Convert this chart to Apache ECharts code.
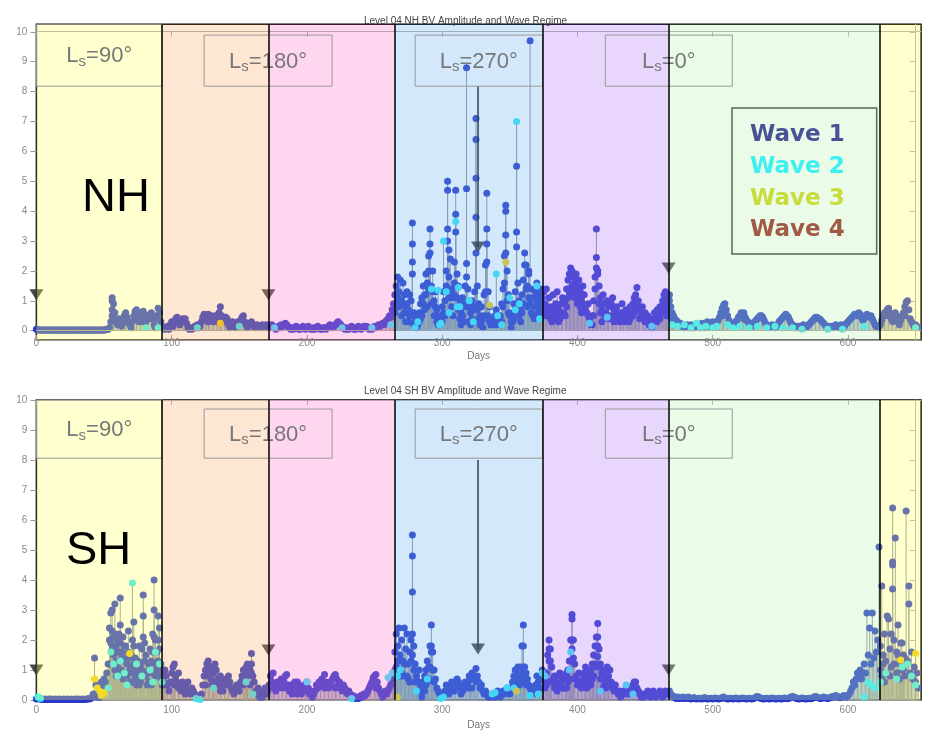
<!DOCTYPE html>
<html><head><meta charset="utf-8">
<script src="https://cdn.jsdelivr.net/npm/echarts@6/dist/echarts.min.js"></script>
<style>html,body{margin:0;padding:0;background:#fff}#c{width:927px;height:734px}</style>
</head><body><div id="c"></div>
<script>
// ---------- DATA ----------
const xTicks = [0, 100, 200, 300, 400, 500, 600];
const yTicks = [0, 1, 2, 3, 4, 5, 6, 7, 8, 9, 10];
// Season boundaries (days) and labels
const seasonEdges = [0, 93, 171.5, 264.7, 374.2, 467.4, 623.2, 654];
const seasonLines = [93, 171.5, 264.7, 374.2, 467.4, 623.2];
const lsLabels = ['90', '180', '270', '0'];
const lsBoxX = [[0, 93], [124, 218.6], [280, 374.2], [420.6, 514.5]];
const waveNames = ['Wave 1', 'Wave 2', 'Wave 3', 'Wave 4'];

// NH daily amplitude (day 0 ... 652)
const nhAmp = [
0.05,0.03,0.02,0.03,0.02,0.02,0.03,0.02,0.02,0.03,
0.02,0.03,0.02,0.02,0.03,0.02,0.02,0.03,0.02,0.02,
0.03,0.02,0.02,0.03,0.02,0.02,0.03,0.02,0.02,0.03,
0.02,0.03,0.02,0.02,0.03,0.02,0.02,0.03,0.02,0.02,
0.03,0.02,0.02,0.03,0.02,0.02,0.03,0.02,0.02,0.03,
0.02,0.03,0.05,0.04,0.1,0.3,1.1,0.9,0.6,0.3,
0.2,0.4,0.3,0.15,0.3,0.5,0.6,0.45,0.3,0.2,
0.1,0.3,0.5,0.65,0.7,0.5,0.3,0.4,0.6,0.65,
0.45,0.3,0.5,0.4,0.55,0.6,0.4,0.2,0.1,0.5,
0.75,0.6,0.3,0.15,0.1,0.05,0.1,0.15,0.05,0.2,
0.3,0.15,0.3,0.4,0.45,0.3,0.2,0.35,0.4,0.3,
0.4,0.25,0.1,0.05,0.1,0.05,0.1,0.15,0.1,0.2,
0.1,0.15,0.3,0.45,0.55,0.4,0.5,0.55,0.35,0.5,
0.4,0.3,0.5,0.45,0.3,0.6,0.8,0.5,0.35,0.3,
0.45,0.4,0.2,0.1,0.2,0.3,0.15,0.1,0.25,0.3,
0.2,0.35,0.45,0.5,0.3,0.2,0.1,0.2,0.25,0.3,
0.2,0.15,0.1,0.2,0.15,0.1,0.15,0.2,0.1,0.15,
0.2,0.1,0.15,0.1,0.2,0.15,0.1,0.05,0.1,0.15,
0.1,0.2,0.15,0.2,0.25,0.2,0.15,0.1,0.05,0.1,
0.05,0.1,0.15,0.1,0.05,0.05,0.1,0.15,0.1,0.05,
0.1,0.15,0.1,0.05,0.05,0.1,0.05,0.1,0.15,0.1,
0.05,0.05,0.1,0.1,0.05,0.1,0.15,0.2,0.15,0.1,
0.15,0.2,0.25,0.3,0.25,0.2,0.15,0.1,0.05,0.1,
0.05,0.05,0.1,0.15,0.1,0.05,0.05,0.1,0.15,0.1,
0.05,0.1,0.15,0.1,0.15,0.1,0.05,0.1,0.05,0.1,
0.15,0.1,0.15,0.2,0.15,0.2,0.25,0.2,0.3,0.35,
0.4,0.5,0.45,0.7,0.9,1.2,1.5,1.8,1.3,1.7,
1.0,1.6,1.2,0.8,1.3,0.7,1.2,1.0,3.6,0.6,
0.3,0.5,0.2,0.6,0.9,1.1,1.5,1.2,1.9,1.6,
2.5,3.4,1.5,2.0,1.0,1.3,0.7,0.5,0.2,0.4,
0.8,1.3,1.0,2.0,5.0,1.8,2.4,1.4,1.1,2.3,
4.7,1.9,1.5,0.9,0.6,1.1,0.8,1.5,8.8,1.4,
0.9,0.6,1.0,0.7,1.3,7.1,1.5,0.9,0.5,0.8,
0.4,1.2,2.2,4.6,1.3,0.8,0.4,0.2,0.3,0.5,
0.7,0.4,0.2,0.5,0.9,1.4,2.5,4.2,2.0,1.2,
0.5,0.3,0.6,0.9,1.3,5.5,1.6,1.0,0.7,1.2,
1.7,2.6,2.2,1.5,1.9,9.7,1.4,1.1,0.8,1.3,
1.6,1.2,0.9,1.4,1.1,1.3,0.9,1.4,0.6,1.1,
0.4,0.8,1.2,0.5,0.9,1.3,0.7,0.4,0.9,1.1,
0.6,1.0,1.4,1.7,1.9,2.1,2.0,1.8,1.6,1.9,
1.5,1.7,1.3,1.0,1.5,1.2,0.8,0.6,0.9,0.4,
0.2,0.5,1.0,1.8,3.4,2.0,1.5,1.1,0.7,1.2,
0.9,0.6,1.0,0.8,0.5,0.9,1.1,0.7,0.4,0.8,
0.6,0.3,0.6,0.9,0.5,0.3,0.7,0.4,0.6,0.8,
0.5,0.9,1.1,1.2,1.45,1.0,0.7,0.5,0.8,0.4,
0.6,0.3,0.5,0.2,0.4,0.1,0.3,0.6,0.4,0.7,
0.5,0.8,0.6,1.0,1.2,1.3,0.9,1.1,1.0,0.8,
0.6,0.5,0.4,0.35,0.3,0.2,0.25,0.15,0.2,0.1,
0.15,0.2,0.1,0.15,0.2,0.1,0.15,0.1,0.2,0.15,
0.1,0.2,0.25,0.15,0.1,0.2,0.3,0.2,0.15,0.25,
0.3,0.2,0.15,0.25,0.35,0.45,0.6,0.75,0.85,0.9,
0.7,0.5,0.35,0.25,0.2,0.15,0.2,0.3,0.35,0.45,
0.5,0.6,0.55,0.6,0.45,0.35,0.3,0.2,0.25,0.15,
0.2,0.3,0.35,0.4,0.45,0.5,0.5,0.45,0.35,0.25,
0.2,0.15,0.1,0.15,0.2,0.15,0.1,0.15,0.2,0.3,
0.35,0.4,0.45,0.5,0.55,0.5,0.45,0.35,0.25,0.2,
0.15,0.1,0.15,0.1,0.15,0.1,0.15,0.2,0.15,0.1,
0.15,0.2,0.25,0.3,0.35,0.4,0.45,0.45,0.4,0.4,
0.35,0.3,0.25,0.2,0.15,0.1,0.15,0.1,0.15,0.1,
0.15,0.2,0.15,0.1,0.15,0.2,0.15,0.1,0.2,0.25,
0.3,0.35,0.4,0.45,0.5,0.55,0.5,0.55,0.6,0.55,
0.45,0.35,0.4,0.5,0.55,0.5,0.45,0.5,0.4,0.3,
0.2,0.15,0.1,0.15,0.2,0.35,0.5,0.6,0.5,0.7,
0.75,0.6,0.4,0.3,0.4,0.6,0.5,0.3,0.2,0.35,
0.5,0.6,0.8,0.95,1.0,0.7,0.4,0.3,0.2,0.15,
0.2,0.15,0.1
];
// extra same-day samples (Wave 1) [day, value]
const nhExtra = [
[56,1.0],[56,0.7],[56,0.5],[57,0.4],[66,0.3],[74,0.4],[79,0.3],[90,0.4],[136,0.5],[136,0.3],[127,0.3],
[266,0.9],[268,0.8],[271,0.9],[276,0.5],[278,2.9],[278,2.3],[278,1.9],[285,0.5],[287,0.7],[289,0.8],
[290,2.0],[291,2.9],[291,2.6],[292,0.9],[300,0.3],[303,1.5],[304,4.7],[304,3.4],[304,3.0],[305,2.7],
[306,1.2],[309,1.6],[310,3.9],[310,3.3],[312,0.7],[316,0.3],[318,4.75],[318,2.25],[318,1.8],[320,0.3],
[322,0.4],[325,6.4],[325,5.1],[325,3.8],[325,2.6],[326,0.7],[329,0.3],[331,0.5],[333,3.4],[333,2.9],
[333,2.3],[334,0.5],[336,0.2],[344,0.3],[347,4.0],[347,3.2],[347,2.6],[348,1.0],[352,0.3],[355,3.3],
[355,2.8],[356,0.7],[358,0.3],[360,0.9],[361,2.2],[363,0.8],[364,2.0],[366,0.6],[368,0.4],[371,0.6],[373,0.7],
[265,0.6],[267,1.1],[269,0.9],[270,0.5],[272,0.6],[273,0.3],[274,0.9],[275,0.3],[277,0.5],[279,0.2],
[281,0.1],[283,0.3],[284,0.4],[286,0.9],[288,1.2],[290,1.4],[293,1.3],[294,0.5],[295,0.8],[296,0.3],
[297,0.2],[301,0.6],[302,0.5],[305,1.1],[307,0.8],[308,0.5],[309,1.2],[311,1.1],[313,0.4],[314,0.2],
[315,0.5],[317,0.9],[319,0.8],[321,0.2],[323,0.3],[324,0.8],[327,0.4],[328,0.2],[330,0.1],[332,1.3],
[335,0.3],[339,0.2],[340,0.3],[343,0.2],[345,0.8],[346,1.6],[349,0.6],[351,0.1],[353,0.4],[354,0.8],
[357,0.5],[359,0.6],[362,1.4],[364,1.1],[365,0.9],[367,0.5],[369,0.8],[370,1.0],[372,0.5],[374,0.6],
[376,0.5],[381,0.3],[385,0.6],[389,0.5],[392,0.8],[394,1.3],[396,1.5],[398,1.1],[400,0.9],[402,0.8],
[413,1.4],[414,2.45],[414,2.1],[415,1.9],[416,0.9],[419,0.6],[426,0.5],[433,0.5],[442,0.6],[444,0.9],
[445,0.7],[459,0.3],[464,0.6],[465,0.8],[468,1.2],[469,0.6],[470,0.4],[507,0.5],[523,0.4],[642,0.5],
[375,0.7],[377,0.8],[379,0.6],[382,0.7],[384,0.4],[386,0.3],[388,0.5],[391,0.5],[393,1.1],[395,1.4],
[397,1.2],[399,1.3],[401,1.1],[403,0.6],[404,0.9],[405,0.7],[408,0.5],[411,0.2],[412,0.5],[417,0.6],
[418,0.3],[420,0.5],[422,0.5],[423,0.4],[425,0.4],[427,0.3],[429,0.4],[432,0.3],[436,0.4],[438,0.3],
[439,0.4],[441,0.5],[443,0.8],[446,0.4],[448,0.4],[450,0.3],[457,0.3],[461,0.4],[463,0.6],[466,0.5],[467,0.7]
];
const nhWave2 = [
[81,0.1],[90,0.1],[119,0.1],[150,0.15],[176,0.1],[226,0.1],[248,0.1],[262,0.2],
[280,0.1],[282,0.3],[292,1.4],[297,1.35],[298,0.2],[299,0.25],[301,3.0],[303,1.3],[305,0.6],
[310,3.65],[311,0.8],[312,1.45],[313,0.8],[320,1.0],[323,0.3],[340,1.9],[341,0.5],[344,0.2],
[350,1.1],[354,0.7],[355,7.0],[357,0.9],[370,1.5],[372,0.4],[409,0.25],[422,0.45],[455,0.15],
[470,0.2],[474,0.15],[479,0.2],[484,0.1],[488,0.25],[491,0.1],[495,0.15],[500,0.1],[503,0.15],
[511,0.2],[515,0.1],[520,0.15],[527,0.1],[533,0.15],[540,0.1],[546,0.15],[552,0.1],[559,0.1],
[566,0.05],[585,0.05],[596,0.05],[612,0.15],[650,0.1]
];
const nhWave3 = [[136,0.25],[335,0.85],[347,2.3]];
const nhWave4 = [];
const nhMarkers = [[0,1.2],[171.5,1.2],[326.5,2.8],[467.4,2.1]];
const nhArrows = [[326.5,8.18,2.8]];

// SH daily amplitude (day 0 ... 652)
const shAmp = [
0.03,0.05,0.04,0.03,0.02,0.02,0.03,0.02,0.02,0.03,
0.02,0.03,0.02,0.02,0.03,0.02,0.02,0.03,0.02,0.02,
0.03,0.02,0.02,0.03,0.02,0.02,0.03,0.02,0.02,0.03,
0.02,0.03,0.02,0.02,0.03,0.02,0.02,0.03,0.04,0.03,
0.05,0.1,0.2,1.4,0.5,0.3,0.2,0.4,0.6,0.5,
0.7,0.6,0.9,1.2,2.4,2.9,3.0,2.1,3.2,1.8,
2.0,2.2,3.4,1.6,2.1,1.4,1.8,1.2,2.3,1.0,
1.5,2.0,2.6,1.4,0.9,1.3,1.8,0.8,1.7,3.5,
1.9,1.5,0.9,1.2,1.7,1.3,2.2,4.0,2.0,1.6,
2.8,2.4,1.2,0.9,0.6,1.0,0.8,0.5,0.3,0.6,
0.9,1.1,1.2,0.8,0.6,0.9,0.5,0.3,0.6,0.4,
0.2,0.4,0.6,0.3,0.2,0.4,0.3,0.2,0.1,0.05,
0.1,0.05,0.2,0.5,0.8,1.0,1.2,1.3,1.0,0.7,
1.1,0.9,1.2,1.0,0.7,0.5,0.8,0.6,0.3,0.5,
0.7,0.5,0.8,0.6,0.4,0.3,0.2,0.3,0.5,0.4,
0.3,0.6,0.8,1.0,0.9,1.1,1.2,0.9,1.0,1.55,
0.8,0.6,0.3,0.2,0.4,0.1,0.2,0.1,0.3,0.4,
0.2,0.3,0.5,0.8,0.6,0.9,0.5,0.3,0.6,0.4,
0.5,0.7,0.4,0.6,0.8,0.85,0.5,0.3,0.5,0.2,
0.4,0.6,0.4,0.6,0.5,0.3,0.2,0.4,0.5,0.3,
0.6,0.4,0.2,0.3,0.1,0.2,0.3,0.5,0.4,0.6,
0.5,0.7,0.6,0.85,0.6,0.5,0.4,0.6,0.5,0.7,
0.8,0.85,0.7,0.5,0.6,0.4,0.3,0.5,0.4,0.3,
0.2,0.3,0.2,0.1,0.15,0.1,0.05,0.1,0.05,0.1,
0.15,0.1,0.2,0.15,0.2,0.3,0.4,0.5,0.6,0.75,
0.8,0.85,0.6,0.4,0.3,0.2,0.1,0.2,0.3,0.2,
0.3,0.4,0.5,0.7,0.9,1.6,2.2,1.8,2.4,1.5,
2.0,1.3,2.4,1.7,2.2,1.2,1.6,2.0,5.5,1.8,
1.2,0.8,0.6,1.0,0.5,0.3,0.6,0.8,1.0,1.3,
1.1,1.8,2.5,1.6,1.0,0.7,0.4,0.3,0.2,0.1,
0.15,0.2,0.3,0.5,0.3,0.2,0.4,0.6,0.5,0.3,
0.5,0.7,0.6,0.4,0.2,0.3,0.5,0.6,0.4,0.6,
0.8,0.7,0.9,0.7,0.8,1.05,0.8,0.6,0.4,0.5,
0.3,0.2,0.3,0.2,0.1,0.15,0.1,0.2,0.15,0.1,
0.2,0.3,0.2,0.1,0.2,0.3,0.2,0.3,0.4,0.3,
0.2,0.4,0.6,0.8,1.0,0.9,1.1,0.8,1.1,1.8,
2.5,1.1,0.9,0.7,0.5,0.4,0.3,0.2,0.3,0.5,
0.8,0.6,0.4,0.7,1.0,0.7,0.4,0.9,1.5,2.0,
1.7,1.1,0.7,0.4,0.6,0.8,0.5,0.9,0.6,0.8,
0.4,0.7,0.9,1.0,1.3,2.0,2.85,2.0,1.2,0.8,
0.5,0.9,0.6,0.4,0.7,0.9,1.1,0.8,0.6,0.9,
1.0,1.2,1.5,1.8,2.1,2.55,1.7,1.2,0.9,0.8,
1.0,0.7,1.1,0.8,1.0,0.6,0.4,0.3,0.5,0.3,
0.2,0.3,0.1,0.2,0.3,0.2,0.3,0.4,0.2,0.3,
0.4,0.5,0.6,0.6,0.4,0.3,0.2,0.1,0.2,0.1,
0.15,0.2,0.3,0.2,0.1,0.2,0.3,0.2,0.1,0.15,
0.2,0.3,0.2,0.1,0.2,0.3,0.2,0.2,0.3,0.2,
0.15,0.1,0.1,0.05,0.1,0.05,0.08,0.05,0.1,0.05,
0.05,0.08,0.1,0.05,0.03,0.05,0.08,0.05,0.03,0.05,
0.04,0.06,0.03,0.05,0.08,0.05,0.03,0.04,0.06,0.05,
0.03,0.05,0.07,0.05,0.03,0.04,0.05,0.08,0.1,0.07,
0.05,0.03,0.04,0.06,0.05,0.03,0.05,0.07,0.05,0.03,
0.04,0.05,0.07,0.05,0.04,0.03,0.05,0.06,0.04,0.03,
0.05,0.07,0.1,0.12,0.1,0.07,0.05,0.04,0.03,0.05,
0.06,0.04,0.03,0.05,0.07,0.05,0.04,0.03,0.05,0.06,
0.04,0.03,0.05,0.07,0.05,0.04,0.05,0.08,0.1,0.12,
0.1,0.08,0.05,0.04,0.03,0.05,0.07,0.05,0.04,0.03,
0.05,0.06,0.04,0.05,0.07,0.1,0.12,0.1,0.08,0.06,
0.05,0.07,0.1,0.08,0.06,0.05,0.07,0.09,0.1,0.12,
0.1,0.15,0.12,0.1,0.08,0.1,0.12,0.15,0.12,0.1,
0.15,0.2,0.3,0.4,0.6,0.5,0.7,0.9,0.8,1.0,
0.7,0.9,1.2,0.9,2.9,1.5,2.4,1.2,2.9,1.4,
2.3,1.6,2.0,5.1,1.8,3.8,1.5,2.2,1.3,2.8,
2.7,1.7,2.2,6.4,2.0,5.4,1.6,2.5,1.2,1.9,
1.0,1.5,0.8
];
const shExtra = [
[45,0.1],[47,0.1],[50,0.3],[52,0.4],[54,2.0],[55,1.9],[56,1.7],[57,1.5],[58,2.2],[59,1.3],[60,1.1],
[61,1.6],[62,2.5],[62,1.9],[63,1.0],[64,1.3],[66,0.9],[68,1.6],[69,0.6],[70,1.1],[71,0.9],[72,1.8],
[73,0.7],[74,0.5],[76,1.1],[77,1.2],[79,2.8],[79,2.1],[80,1.3],[81,0.8],[83,0.6],[85,0.9],[86,1.6],
[87,3.0],[87,2.1],[88,1.2],[90,2.0],[91,1.7],[92,0.7],
[54,1.2],[56,2.3],[58,1.0],[59,0.8],[60,1.6],[61,0.9],[63,1.4],[64,0.7],[65,1.8],[67,0.8],[69,1.4],
[70,0.6],[72,1.2],[73,1.0],[75,0.7],[76,0.5],[77,0.6],[78,1.0],[80,0.8],[82,0.5],[83,1.0],[84,0.6],
[85,0.5],[88,0.8],[89,1.0],[90,1.3],[91,0.9],[92,1.0],[93,0.5],
[95,0.5],[101,0.6],[102,0.5],[105,0.4],[125,0.5],[127,0.8],[130,0.5],[132,0.6],[136,0.3],[153,0.5],
[155,0.6],[156,0.8],[159,1.2],[159,0.9],[158,0.5],[175,0.4],[185,0.4],[193,0.2],[213,0.4],[221,0.4],[251,0.4],
[266,1.1],[268,1.3],[270,0.9],[272,1.2],[274,0.8],[276,0.6],[278,4.8],[278,3.6],[278,2.2],[278,1.5],
[279,1.0],[287,0.3],[289,0.6],[291,1.1],[292,1.8],[292,1.6],[320,0.4],[322,0.4],[325,0.6],[356,0.6],
[358,0.6],[359,0.9],[360,1.8],[360,1.1],
[265,1.0],[267,1.3],[269,0.8],[271,0.8],[273,1.2],[275,0.7],[277,1.3],[280,0.6],[282,0.3],[283,0.6],
[285,0.1],[288,0.5],[290,0.7],[293,1.0],[294,0.6],[354,0.6],[357,0.5],[361,0.7],[362,0.5],[373,0.4],
[378,0.6],[379,1.7],[379,1.3],[385,0.3],[389,0.4],[392,0.4],[394,0.7],[395,1.3],[396,2.7],[396,2.0],
[396,1.7],[406,0.5],[410,0.5],[412,0.8],[414,1.2],[415,2.1],[415,1.8],[415,1.45],[420,0.5],[422,0.6],[424,0.5],
[377,0.5],[380,1.3],[381,0.6],[383,0.8],[387,0.5],[391,0.4],[393,0.6],[397,1.4],[398,0.7],[401,0.5],
[405,0.6],[407,0.4],[409,0.5],[411,0.7],[413,1.1],[416,1.1],[417,0.7],[419,0.4],[421,0.4],[423,0.5],
[624,1.0],[625,0.8],[626,1.2],[627,0.6],[629,0.9],[631,0.8],[632,1.1],[633,4.6],[633,4.5],[633,3.7],
[634,1.2],[636,0.9],[637,1.5],[638,0.7],[640,1.9],[641,1.0],[642,1.4],[643,6.3],[644,1.3],[645,3.8],
[645,3.2],[646,0.9],[647,1.6],[648,0.7],[649,1.1],[650,0.6],[651,0.9],[652,0.4]
];
const shWave2 = [
[1,0.1],[2,0.1],[3,0.05],[53,0.4],[55,1.6],[57,1.2],[60,0.8],[62,1.3],[65,0.9],[67,0.5],[71,3.9],
[74,1.2],[78,0.8],[84,1.0],[86,0.6],[88,1.6],[91,1.2],[93,0.6],[118,0.05],[121,0.02],[131,0.4],
[155,0.6],[160,0.2],[200,0.6],[233,0.05],[260,0.75],[263,0.9],[267,0.8],[269,1.0],[281,0.3],[289,0.7],
[299,0.05],[301,0.1],[337,0.2],[339,0.25],[348,0.4],[353,0.4],[365,0.15],[371,0.2],[374,0.9],[376,0.8],
[394,1.0],[395,1.6],[417,0.3],[436,0.5],[441,0.2],[612,0.1],[615,0.6],[617,0.5],[620,0.4],
[624,0.6],[628,0.9],[636,0.7],[640,1.1],[644,1.2],[647,0.8],[650,0.5]
];
const shWave3 = [[43,0.7],[45,0.4],[47,0.28],[48,0.15],[50,0.25],[69,1.55],[267,0.1],[355,0.3],[639,1.33],[650,1.55]];
const shWave4 = [];
const shMarkers = [[0,1.0],[171.5,1.67],[326.5,1.7],[467.4,1.0]];
const shArrows = [[326.5,8.0,1.7]];

// ---------- STYLE ----------
const waveColors = ['#2838c8', '#33e6f5', '#f0cc10', '#a0523c'];
const legendColors = ['#4a5296', '#3ff0f0', '#c8dc3c', '#a05a46'];
const bandColors = [
  'rgba(255,255,98,0.3)', 'rgba(248,172,105,0.3)', 'rgba(255,118,205,0.3)',
  'rgba(112,178,245,0.3)', 'rgba(178,118,245,0.3)', 'rgba(185,245,178,0.3)', 'rgba(255,255,98,0.3)'
];
const FONT = 'Liberation Sans';

const panels = [
  {amp: nhAmp, extra: nhExtra, w2: nhWave2, w3: nhWave3, w4: nhWave4, markers: nhMarkers, arrows: nhArrows,
   grid: {left: 36.4, right: 6, top: 24.3, height: 315.7}, ymin: -0.31, ymax: 10.25, box: [8.18, 9.89], boxTop: 10.25,
   topOffset: -7.4, nameGap: 11, labelMargin: -2, baseline: true},
  {amp: shAmp, extra: shExtra, w2: shWave2, w3: shWave3, w4: shWave4, markers: shMarkers, arrows: shArrows,
   grid: {left: 36.4, right: 6, top: 400, height: 300}, ymin: 0, ymax: 10, box: [8.06, 9.7], boxTop: 10,
   topOffset: 0, nameGap: 20, labelMargin: 5, baseline: false}
];

const grids = [], xAxes = [], yAxes = [], series = [];
panels.forEach((p, g) => {
  grids.push(Object.assign({show: true, borderColor: '#000', borderWidth: 1.5, backgroundColor: 'transparent'}, p.grid));
  const xi = g * 2, yi = g * 2;
  xAxes.push({gridIndex: g, type: 'value', min: 0, max: 654, interval: 100, position: 'bottom',
    axisLine: {onZero: false, lineStyle: {color: '#999'}}, axisTick: {inside: true, length: 5, lineStyle: {color: '#999'}, customValues: xTicks},
    axisLabel: {color: '#888', fontSize: 10, margin: p.labelMargin, fontFamily: FONT, customValues: xTicks}, splitLine: {show: false},
    name: 'Days', nameLocation: 'middle', nameGap: p.nameGap, nameTextStyle: {color: '#777', fontSize: 10, fontFamily: FONT}});
  xAxes.push({gridIndex: g, type: 'value', min: 0, max: 654, interval: 100, position: 'top', offset: p.topOffset,
    axisLine: {show: true, onZero: false, lineStyle: {color: '#aaa'}}, axisTick: {inside: true, length: 5, lineStyle: {color: '#aaa'}, customValues: xTicks},
    axisLabel: {show: false}, splitLine: {show: false}});
  yAxes.push({gridIndex: g, type: 'value', min: p.ymin, max: p.ymax, position: 'left',
    axisLine: {show: false, onZero: false}, axisTick: {show: true, inside: false, length: 6, lineStyle: {color: '#999'}, customValues: yTicks},
    axisLabel: {color: '#888', fontSize: 10, margin: 9, fontFamily: FONT, customValues: yTicks}, splitLine: {show: false}});
  yAxes.push({gridIndex: g, type: 'value', min: p.ymin, max: p.ymax, position: 'right', offset: -6,
    axisLine: {show: true, onZero: false, lineStyle: {color: '#aaa'}}, axisTick: {show: true, inside: true, length: 5, lineStyle: {color: '#aaa'}, customValues: yTicks},
    axisLabel: {show: false, customValues: yTicks}, splitLine: {show: false}});
  const main = p.amp.map((v, i) => [i, v]);
  const w1 = main.concat(p.extra);
  const all = w1.concat(p.w2, p.w3, p.w4);
  series.push({type: 'bar', xAxisIndex: xi, yAxisIndex: yi, data: all, barWidth: 1, silent: true, z: 1,
    itemStyle: {color: '#8a939c'}, animation: false,
    markLine: p.baseline ? {silent: true, symbol: 'none', label: {show: false}, lineStyle: {color: '#a0a0a0', width: 1, type: 'solid'},
      data: [{yAxis: 0}]} : undefined});
  [w1, p.w2, p.w3, p.w4].forEach((d, k) => {
    series.push({type: 'scatter', name: waveNames[k], xAxisIndex: xi, yAxisIndex: yi, data: d, symbolSize: 7,
      itemStyle: {color: waveColors[k], opacity: 1}, z: 2 + k, silent: true});
  });
  p.arrows.forEach(a => {
    series.push({type: 'line', xAxisIndex: xi, yAxisIndex: yi, data: [[a[0], a[1]], [a[0], a[2]]], symbol: 'none',
      lineStyle: {color: '#111', width: 1.5}, z: 6, silent: true});
  });
  series.push({type: 'scatter', xAxisIndex: xi, yAxisIndex: yi, data: p.markers, symbol: 'triangle', symbolRotate: 180,
    symbolSize: [14, 11], itemStyle: {color: '#1a1a1a'}, z: 7, silent: true});
  // semi-transparent season overlays
  const bands = [];
  for (let i = 0; i < seasonEdges.length - 1; i++) {
    bands.push([{xAxis: seasonEdges[i], itemStyle: {color: bandColors[i]}}, {xAxis: seasonEdges[i + 1]}]);
  }
  series.push({type: 'line', xAxisIndex: xi, yAxisIndex: yi, data: [], z: 10, silent: true,
    markArea: {silent: true, z: 10, data: bands}});
  // Ls label boxes
  const boxes = lsLabels.map((l, i) => [
    {xAxis: lsBoxX[i][0], yAxis: i === 0 ? p.boxTop : p.box[1], name: l},
    {xAxis: lsBoxX[i][1], yAxis: p.box[0]}]);
  series.push({type: 'line', xAxisIndex: xi, yAxisIndex: yi, data: [], z: 11, silent: true,
    markArea: {silent: true, z: 11, itemStyle: {color: 'rgba(0,0,0,0)', borderColor: '#999', borderWidth: 1},
      label: {show: true, position: 'inside', color: '#777', offset: [0, 2],
        formatter: prm => '{L|L}{s|s}{e|=' + prm.name + '°}',
        rich: {L: {fontSize: 22, lineHeight: 24, verticalAlign: 'top', color: '#777', fontFamily: FONT},
               e: {fontSize: 22, lineHeight: 24, verticalAlign: 'top', color: '#777', fontFamily: FONT},
               s: {fontSize: 15, lineHeight: 24, verticalAlign: 'bottom', color: '#777', fontFamily: FONT}}},
      data: boxes}});
  // season boundaries
  series.push({type: 'line', xAxisIndex: xi, yAxisIndex: yi, data: [], z: 12, silent: true,
    markLine: {silent: true, z: 12, symbol: 'none', label: {show: false}, lineStyle: {color: '#000', width: 1.5, type: 'solid'},
      data: seasonLines.map(d => ({xAxis: d}))}});
});

const chart = echarts.init(document.getElementById('c'));
chart.setOption({
  animation: false,
  backgroundColor: '#fff',
  title: [
    {text: 'Level 04 NH BV Amplitude and Wave Regime', left: 359, top: 11, z: 20, textStyle: {fontSize: 10, fontWeight: 'normal', color: '#444', fontFamily: FONT}},
    {text: 'Level 04 SH BV Amplitude and Wave Regime', left: 359, top: 381, z: 20, textStyle: {fontSize: 10, fontWeight: 'normal', color: '#444', fontFamily: FONT}},
    {text: 'NH', left: 77, top: 170, z: 20, textStyle: {fontSize: 47, fontWeight: 'normal', color: '#000', fontFamily: FONT}},
    {text: 'SH', left: 61, top: 523, z: 20, textStyle: {fontSize: 47, fontWeight: 'normal', color: '#000', fontFamily: FONT}}
  ],
  legend: {show: true, left: 732, top: 108, orient: 'vertical', icon: 'none', itemWidth: 0, itemHeight: 24, itemGap: 8.3,
    padding: [15, 32, 12, 13], borderColor: '#5a665a', borderWidth: 1.5, selectedMode: false, z: 20,
    textStyle: {fontSize: 23, fontWeight: 'bold', fontFamily: 'DejaVu Sans'},
    data: waveNames.map((n, i) => ({name: n, textStyle: {color: legendColors[i]}}))},
  grid: grids, xAxis: xAxes, yAxis: yAxes, series: series
});
</script></body></html>
